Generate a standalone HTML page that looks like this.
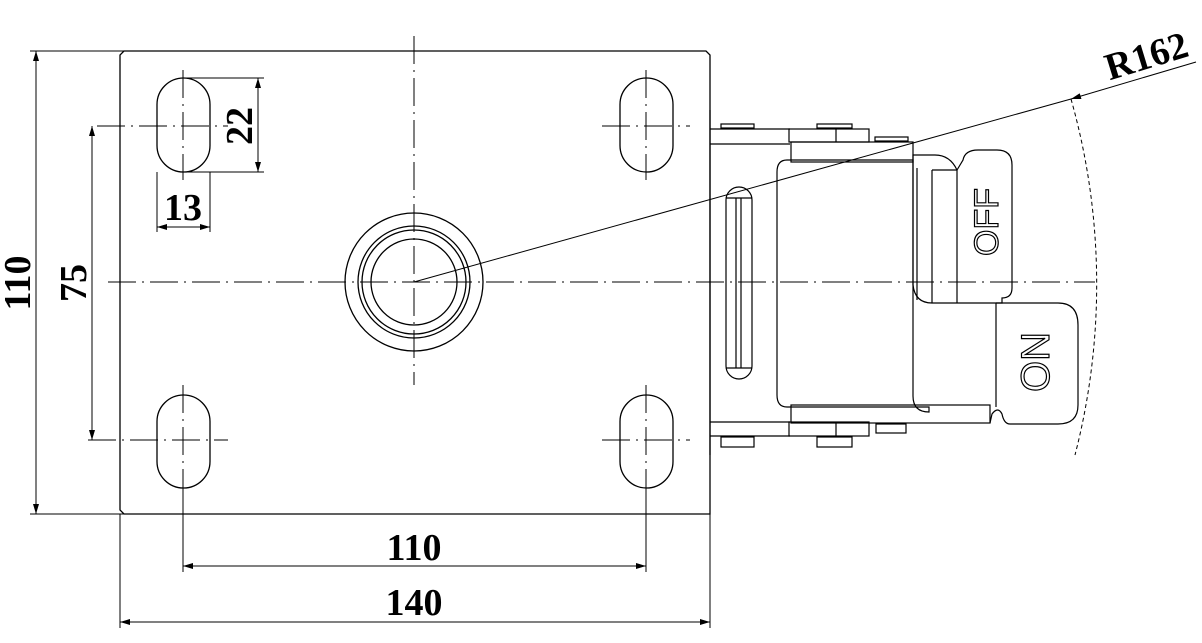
<!DOCTYPE html>
<html><head><meta charset="utf-8"><style>
html,body{margin:0;padding:0;background:#fff;}
svg{display:block;}
.t{font-family:"Liberation Serif",serif;font-size:38px;font-weight:bold;fill:#000;}
</style></head><body>
<svg width="1202" height="643" viewBox="0 0 1202 643" xmlns="http://www.w3.org/2000/svg">
<defs>
<marker id="a" viewBox="0 0 10 6" refX="10" refY="3" markerWidth="14" markerHeight="6" markerUnits="userSpaceOnUse" orient="auto-start-reverse"><path d="M0,0 L10,3 L0,6 Z" fill="#000"/></marker>
</defs>
<g fill="none" stroke="#000" stroke-width="1.3">
<path d="M124,51 H706 L710,55 V514 H124 L120,510 V55 Z"/>
<rect x="157" y="78" width="53" height="94" rx="26.5"/>
<rect x="620" y="78" width="53" height="94" rx="26.5"/>
<rect x="157" y="395" width="53" height="93" rx="26.5"/>
<rect x="620" y="395" width="53" height="93" rx="26.5"/>
<circle cx="414" cy="282" r="69"/>
<circle cx="414" cy="282" r="56"/>
<circle cx="414" cy="282" r="52"/>
<circle cx="414" cy="282" r="43"/>
</g>
<g stroke="#000" stroke-width="1" fill="none" stroke-dasharray="28,6,2,6">
<line x1="414" y1="36" x2="414" y2="385"/>
<line x1="108" y1="282" x2="1095" y2="282"/>
<line x1="183" y1="70" x2="183" y2="180"/>
<line x1="646" y1="70" x2="646" y2="180"/>
<line x1="183" y1="385" x2="183" y2="495"/>
<line x1="646" y1="385" x2="646" y2="495"/>
<line x1="97" y1="126" x2="228" y2="126"/>
<line x1="602" y1="126" x2="690" y2="126"/>
<line x1="88" y1="440" x2="228" y2="440"/>
<line x1="602" y1="440" x2="690" y2="440"/>
</g>
<g stroke="#000" stroke-width="1" fill="none">
<line x1="30" y1="51" x2="124" y2="51"/>
<line x1="30" y1="514" x2="124" y2="514"/>
<line x1="120" y1="514" x2="120" y2="628"/>
<line x1="710" y1="514" x2="710" y2="628"/>
<line x1="183" y1="488" x2="183" y2="572"/>
<line x1="646" y1="488" x2="646" y2="572"/>
<line x1="183" y1="78" x2="264" y2="78"/>
<line x1="183" y1="172" x2="264" y2="172"/>
<line x1="157" y1="172" x2="157" y2="232"/>
<line x1="210" y1="172" x2="210" y2="232"/>
<line x1="36" y1="51" x2="36" y2="514" marker-start="url(#a)" marker-end="url(#a)"/>
<line x1="92" y1="126" x2="92" y2="440" marker-start="url(#a)" marker-end="url(#a)"/>
<line x1="258" y1="78" x2="258" y2="172" marker-start="url(#a)" marker-end="url(#a)"/>
<line x1="157" y1="227" x2="210" y2="227" marker-start="url(#a)" marker-end="url(#a)"/>
<line x1="183" y1="566" x2="646" y2="566" marker-start="url(#a)" marker-end="url(#a)"/>
<line x1="120" y1="622" x2="710" y2="622" marker-start="url(#a)" marker-end="url(#a)"/>
<line x1="414" y1="282" x2="1071" y2="99"/>
<line x1="1071" y1="99" x2="1196" y2="62" marker-start="url(#a)"/>
<path d="M1071,99 A682,682 0 0 1 1075,455" stroke-dasharray="4,3"/>
</g>
<g fill="none" stroke="#000" stroke-width="1.2">
<line x1="710" y1="110" x2="710" y2="455"/>
<line x1="710" y1="129" x2="790" y2="129"/>
<line x1="710" y1="144" x2="790" y2="144"/>
<line x1="710" y1="422" x2="790" y2="422"/>
<line x1="710" y1="436" x2="790" y2="436"/>
<rect x="721" y="124" width="33" height="4"/>
<rect x="817" y="124" width="35" height="4"/>
<rect x="875" y="137" width="33" height="4"/>
<rect x="789" y="129" width="80" height="13"/>
<line x1="836" y1="129" x2="836" y2="142"/>
<rect x="791" y="142" width="122" height="20"/>
<path d="M787,160 H913 V396 Q913,412 929,412 V407 H787 Q777,407 777,395 V172 Q777,160 787,160 Z"/>
<rect x="726" y="187" width="26" height="192" rx="13"/>
<line x1="726" y1="198" x2="752" y2="198"/>
<line x1="726" y1="368" x2="752" y2="368"/>
<line x1="736" y1="198" x2="736" y2="368"/>
<line x1="741" y1="198" x2="741" y2="368"/>
<path d="M913,155 H935 Q950,155 957,170 L963,160 Q965,150 978,150 H997 Q1012,150 1012,165 V288 Q1012,298 1002,298 V303 H932 Q915,303 913,285 Z"/>
<line x1="932" y1="170" x2="932" y2="303"/>
<line x1="932" y1="170" x2="957" y2="170"/>
<line x1="957" y1="170" x2="957" y2="303"/>
<line x1="917" y1="168" x2="917" y2="300"/>
<path d="M996,303 H1058 Q1078,303 1078,325 V405 Q1078,424 1058,424 H1010 Q1004,424 1002,414 Q998,406 992,414 L990,423"/>
<line x1="996" y1="303" x2="996" y2="407"/>
<rect x="791" y="405" width="199" height="18"/>
<rect x="789" y="422" width="80" height="14"/>
<line x1="836" y1="422" x2="836" y2="436"/>
<rect x="721" y="437" width="33" height="10"/>
<rect x="817" y="437" width="35" height="10"/>
<rect x="876" y="424" width="30" height="9"/>
</g>
<text x="0" y="0" transform="translate(998,222) rotate(-90)" text-anchor="middle" style="font-family:'Liberation Sans',sans-serif;font-size:34px;fill:#fff;stroke:#000;stroke-width:1.2">OFF</text>
<text x="0" y="0" transform="translate(1049,362) rotate(-90)" text-anchor="middle" style="font-family:'Liberation Sans',sans-serif;font-size:40px;fill:#fff;stroke:#000;stroke-width:1.2">ON</text>
<text class="t" transform="translate(30,283) rotate(-90)" text-anchor="middle">110</text>
<text class="t" transform="translate(86,283) rotate(-90)" text-anchor="middle">75</text>
<text class="t" transform="translate(252,126) rotate(-90)" text-anchor="middle">22</text>
<text class="t" x="183" y="220" text-anchor="middle">13</text>
<text class="t" x="414" y="560" text-anchor="middle">110</text>
<text class="t" x="414" y="615" text-anchor="middle">140</text>
<text class="t" transform="translate(1150,68) rotate(-17)" text-anchor="middle">R162</text>
</svg>
</body></html>
